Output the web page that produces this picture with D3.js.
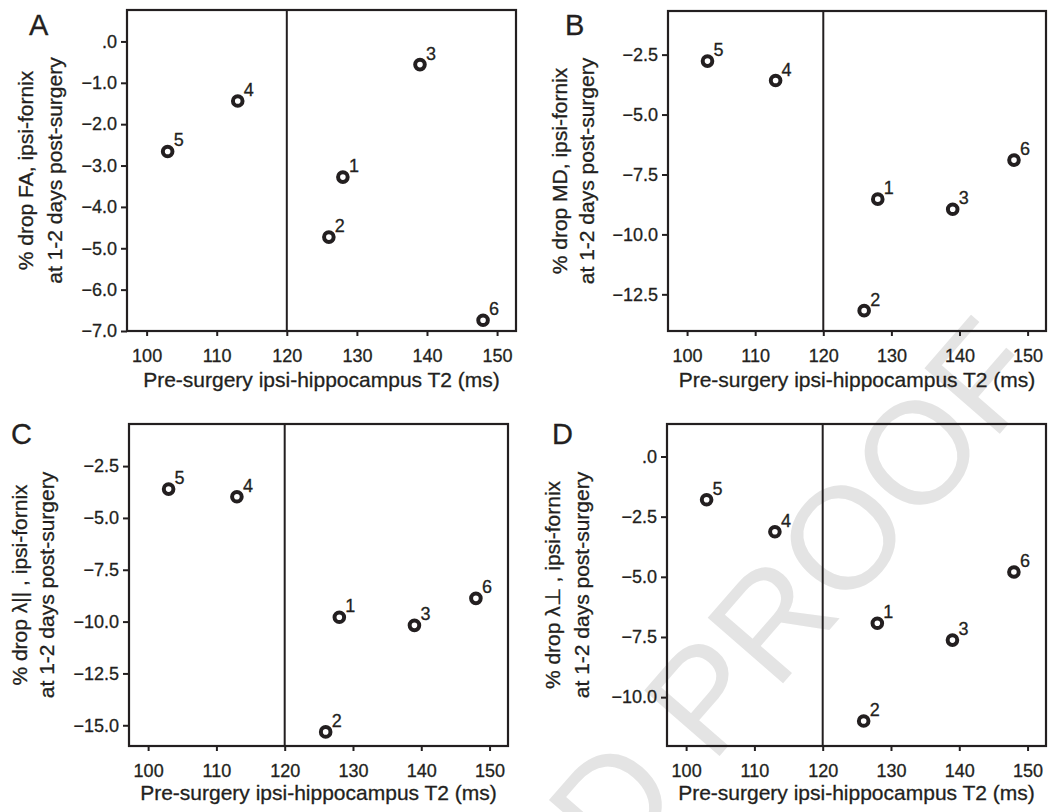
<!DOCTYPE html>
<html>
<head>
<meta charset="utf-8">
<script src="https://cdn.jsdelivr.net/npm/d3@7"></script>
<style>
  body { margin: 0; background: #fff; }
  svg { display: block; }
  text { font-family: "Liberation Sans", Arial, Helvetica, sans-serif; fill: #231f20; }
  .ink-text { stroke: #231f20; stroke-width: 0.3px; }
</style>
</head>
<body>
<div id="chart"></div>
<script>
// Valores (6 sujeitos)
const subjects = [1, 2, 3, 4, 5, 6];
const t2 = [128, 126, 139, 113, 103, 148];
const dropFA = [-3.28, -4.73, -0.56, -1.44, -2.66, -6.74];
const dropMD = [-8.53, -13.18, -8.95, -3.58, -2.77, -6.90];
const dropLpar = [-9.79, -15.32, -10.18, -3.98, -3.61, -8.88];
const dropLperp = [-6.93, -10.99, -7.63, -3.13, -1.80, -4.80];

const xTicks = [100, 110, 120, 130, 140, 150];
const yTicksA = [0, -1, -2, -3, -4, -5, -6, -7];
const yTicksB = [-2.5, -5, -7.5, -10, -12.5];
const yTicksC = [-2.5, -5, -7.5, -10, -12.5, -15];
const yTicksD = [0, -2.5, -5, -7.5, -10];

const xTitle = 'Pre-surgery ipsi-hippocampus T2 (ms)';
const yTitle2 = 'at 1-2 days post-surgery';
const cutoff = 120;

const W = 1048, H = 812;
const ink = '#231f20';

const svg = d3.select('#chart').append('svg')
    .attr('width', W)
    .attr('height', H);

// marca d'agua (diagonal, cinza claro)
svg.append('text')
    .attr('transform', 'translate(1050,376) rotate(-49)')
    .attr('text-anchor', 'end')
    .attr('font-size', 145)
    .style('fill', '#e4e4e4')
    .text('UNCORRECTED PROOF');

const panels = [
    { letter: 'A', values: dropFA, line1: '% drop FA, ipsi-fornix', ticks: yTicksA,
      yDomain: [-7.0, 0.76], box: { l: 127, t: 10, r: 516, b: 331 },
      titleX: [33, 62], letterPos: [29, 35], xTitleGap: 56 },
    { letter: 'B', values: dropMD, line1: '% drop MD, ipsi-fornix', ticks: yTicksB,
      yDomain: [-14.03, -0.68], box: { l: 668, t: 11, r: 1046, b: 331 },
      titleX: [567, 594], letterPos: [565, 35], xTitleGap: 56 },
    { letter: 'C', values: dropLpar, line1: '% drop \u03bb|| , ipsi-fornix', ticks: yTicksC,
      yDomain: [-16.0, -0.47], box: { l: 129, t: 424, r: 508, b: 746 },
      titleX: [27, 54], letterPos: [11, 444], xTitleGap: 54 },
    { letter: 'D', values: dropLperp, line1: '% drop \u03bb\u22a5 , ipsi-fornix', ticks: yTicksD,
      yDomain: [-12.03, 1.35], box: { l: 667, t: 424, r: 1046, b: 746 },
      titleX: [560, 589], letterPos: [552, 444], xTitleGap: 54 }
];

function fmtY(v) {
    // estilo SPSS: ".0", "-2.5"
    return d3.format('.1f')(v).replace(/^(\u2212?)0\./, '$1.');
}

panels.forEach(p => {
    const b = p.box;
    const x = d3.scaleLinear().domain([97.2, 152.7]).range([b.l, b.r]);
    const y = d3.scaleLinear().domain(p.yDomain).range([b.b, b.t]);
    const g = svg.append('g');

    // eixo x
    const xa = g.append('g')
        .attr('transform', `translate(0,${b.b})`)
        .call(d3.axisBottom(x).tickValues(xTicks).tickSize(5).tickPadding(13).tickFormat(d3.format('d')));
    // eixo y
    const ya = g.append('g')
        .attr('transform', `translate(${b.l},0)`)
        .call(d3.axisLeft(y).tickValues(p.ticks).tickSize(6).tickPadding(4).tickFormat(fmtY));

    [xa, ya].forEach(a => {
        a.attr('font-family', null).attr('font-size', null);
        a.select('.domain').remove();
        a.selectAll('line').attr('stroke', ink).attr('stroke-width', 2);
        a.selectAll('text').attr('font-size', 18).attr('class', 'ink-text').style('fill', ink);
    });

    // moldura
    g.append('rect')
        .attr('x', b.l).attr('y', b.t)
        .attr('width', b.r - b.l).attr('height', b.b - b.t)
        .attr('fill', 'none')
        .attr('stroke', ink)
        .attr('stroke-width', 2.2);

    // linha de corte 120 ms
    g.append('line')
        .attr('x1', x(cutoff)).attr('x2', x(cutoff))
        .attr('y1', b.t).attr('y2', b.b)
        .attr('stroke', ink)
        .attr('stroke-width', 2);

    // pontos
    g.selectAll('circle.pt')
        .data(subjects)
        .enter()
        .append('circle')
        .attr('class', 'pt')
        .attr('cx', (d, i) => x(t2[i]))
        .attr('cy', (d, i) => y(p.values[i]))
        .attr('r', 4.8)
        .attr('fill', '#fff')
        .attr('stroke', ink)
        .attr('stroke-width', 4);

    g.selectAll('text.pt-label')
        .data(subjects)
        .enter()
        .append('text')
        .attr('class', 'pt-label ink-text')
        .attr('x', (d, i) => x(t2[i]) + 6)
        .attr('y', (d, i) => y(p.values[i]) - 5)
        .attr('font-size', 18)
        .text(d => d);

    // titulos
    g.append('text')
        .attr('class', 'ink-text')
        .attr('x', (b.l + b.r) / 2)
        .attr('y', b.b + p.xTitleGap)
        .attr('text-anchor', 'middle')
        .attr('font-size', 21)
        .text(xTitle);

    const cy = (b.t + b.b) / 2;
    [p.line1, yTitle2].forEach((t, k) => {
        g.append('text')
            .attr('class', 'ink-text')
            .attr('transform', `translate(${p.titleX[k]},${cy}) rotate(-90)`)
            .attr('text-anchor', 'middle')
            .attr('font-size', 21)
            .text(t);
    });

    g.append('text')
        .attr('class', 'ink-text')
        .attr('x', p.letterPos[0])
        .attr('y', p.letterPos[1])
        .attr('font-size', 29)
        .text(p.letter);
});
</script>
</body>
</html>
